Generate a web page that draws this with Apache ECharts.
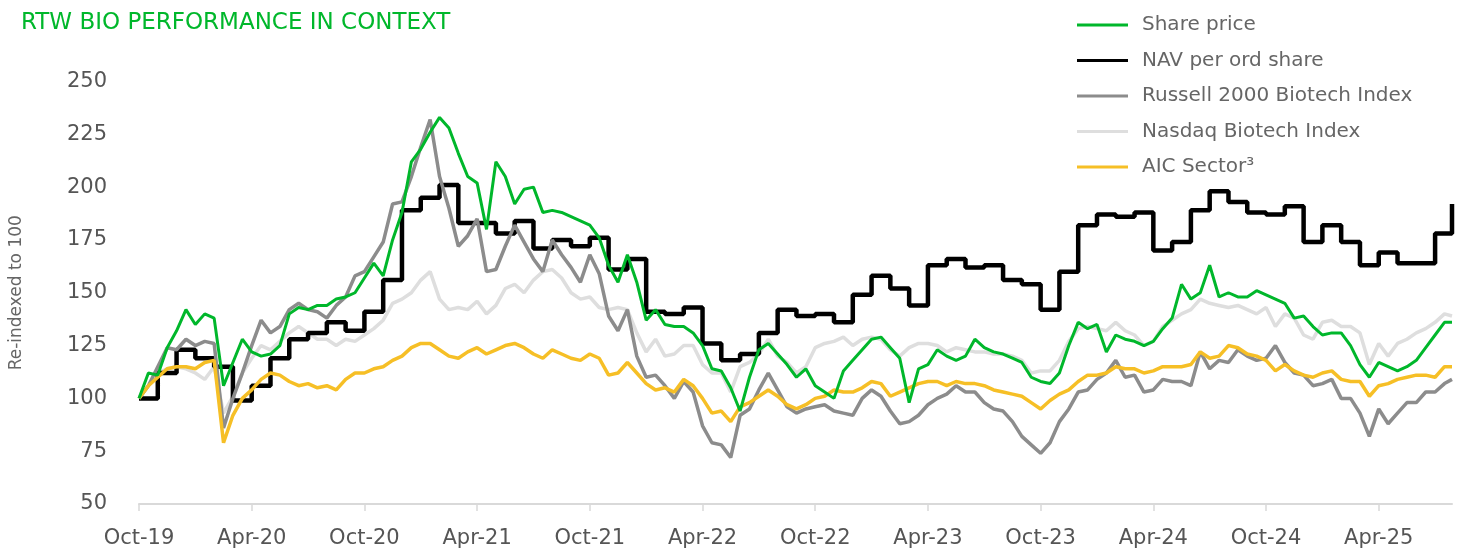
<!DOCTYPE html>
<html>
<head>
<meta charset="utf-8">
<script src="https://cdn.jsdelivr.net/npm/echarts@6/dist/echarts.min.js"></script>
<style>
html,body{margin:0;padding:0;background:#fff;}
#c{width:1458px;height:549px;}
</style>
</head>
<body>
<div id="c"></div>
<script>
// x positions: months elapsed since 1 Oct 2019 (half-month sampling, last point late Jul 2025)
const monthsEnd = 69.9;
const tickMonths = [0, 6, 12, 18, 24, 30, 36, 42, 48, 54, 60, 66];
const tickLabels = ['Oct-19','Apr-20','Oct-20','Apr-21','Oct-21','Apr-22','Oct-22','Apr-23','Oct-23','Apr-24','Oct-24','Apr-25'];

const sharePrice = [
  100,112,111,124,132,142,135,140,138,106,117,128,122,120,121,125,140,143,142,144,144,147,148,150,157,
  164,158,175,188,212,218,226,233,228,216,205,202,180,212,205,192,199,200,188,189,188,186,184,182,
  176,163,155,168,155,137,142,135,134,134,131,125,114,113,105,94,110,123,126,121,116,110,114,106,
  103,100,113,118,123,128,129,124,119,98,114,116,123,120,118,120,128,124,122,121,119,117,110,108,
  107,112,125,136,133,135,122,130,128,127,125,127,133,138,154,147,150,163,148,150,148,148,151,149,
  147,145,138,139,134,130,131,131,125,116,110,117,115,113,115,118,124,130,136,136
];
const russell = [
  100,106,115,124,123,128,125,127,126,86,100,112,125,137,131,134,142,145,142,141,138,144,148,158,160,
  167,174,192,193,205,219,232,205,190,172,177,185,160,161,172,182,174,166,160,175,168,162,155,168,
  159,139,132,142,120,110,111,106,100,108,103,87,79,78,72,92,95,104,112,104,96,93,95,96,
  97,94,93,92,100,104,101,94,88,89,92,97,100,102,106,103,103,98,95,94,89,82,78,74,
  79,89,95,103,104,109,112,118,110,111,103,104,109,108,108,106,122,114,118,117,123,120,118,119,
  125,117,112,111,106,107,109,100,100,93,82,95,88,93,98,98,103,103,107,109
];
const nasdaq = [
  100,106,112,114,115,114,112,109,115,93,101,112,119,125,123,127,131,134,131,128,128,125,128,127,130,
  133,137,145,147,150,156,160,147,142,143,142,146,140,144,152,154,150,156,160,161,157,150,147,148,
  143,142,143,142,131,122,128,120,121,125,125,116,112,112,103,115,117,121,128,120,117,112,115,124,
  126,127,129,125,128,129,128,123,120,124,126,126,125,122,124,123,122,122,121,121,120,118,112,113,
  113,118,127,133,134,133,132,136,132,130,125,127,134,137,140,142,147,145,144,143,144,142,140,143,
  134,140,138,130,128,136,137,134,134,131,116,126,120,126,128,131,133,136,140,139
];
const aicSector = [
  100,106,110,114,115,115,114,117,118,79,92,100,104,109,112,111,108,106,107,105,106,104,109,112,112,
  114,115,118,120,124,126,126,123,120,119,122,124,121,123,125,126,124,121,119,123,121,119,118,121,
  119,111,112,117,112,107,104,105,103,109,106,100,93,94,89,96,98,101,104,101,97,95,97,100,
  101,104,103,103,105,108,107,101,103,105,107,108,108,106,108,107,107,106,104,103,102,101,98,95,
  99,102,104,108,111,111,112,115,114,114,112,113,115,115,115,116,122,119,120,125,124,121,120,118,
  113,116,113,111,110,112,113,109,108,108,101,106,107,109,110,111,111,110,115,115
];
// NAV per ord share: one value per month (month 0 = Oct-19), plus final reading
const navMonthly = [
  100,112,123,119,115,99,106,119,128,131,136,132,
  141,156,189,195,201,183,183,178,184,171,175,172,
  176,161,166,141,140,143,126,118,121,131,142,139,
  140,136,149,158,152,144,163,166,162,163,156,154,
  142,160,182,187,186,188,170,174,189,198,193,188,
  187,191,174,182,174,163,169,164,164,178
];
const navFinal = 192;

const FONT = 'DejaVu Sans';
const GREEN = '#00b72b';

// sample times (half-month steps) for the index series
const sampleMonths = [];
for (let i = 0; i < sharePrice.length - 1; i++) sampleMonths.push(i / 2);
sampleMonths.push(monthsEnd);
const pair = arr => arr.map((v, i) => [sampleMonths[i], v]);
const navData = navMonthly.map((v, k) => [k, v]).concat([[monthsEnd, navFinal]]);

const chart = echarts.init(document.getElementById('c'), null, {renderer: 'canvas'});
chart.setOption({
  animation: false,
  backgroundColor: '#ffffff',
  textStyle: {fontFamily: FONT},
  title: {
    text: 'RTW BIO PERFORMANCE IN CONTEXT',
    left: 16, top: 7,
    textStyle: {color: GREEN, fontSize: 23, fontWeight: 'normal', fontFamily: FONT}
  },
  legend: {
    orient: 'vertical',
    left: 1072, top: 9,
    icon: 'rect',
    itemWidth: 51, itemHeight: 3,
    itemGap: 13.5,
    data: ['Share price', 'NAV per ord share', 'Russell 2000 Biotech Index', 'Nasdaq Biotech Index', 'AIC Sector³'],
    textStyle: {color: '#666666', fontSize: 20, fontFamily: FONT, lineHeight: 22, padding: [0, 0, 0, 9]}
  },
  grid: {left: 132, right: 6, top: 81.5, bottom: 43.5, containLabel: false},
  xAxis: {
    type: 'value', min: 0, max: monthsEnd,
    axisLine: {show: true, lineStyle: {color: '#d9d9d9', width: 2}},
    axisTick: {show: true, length: 7, customValues: tickMonths, lineStyle: {color: '#d9d9d9', width: 1.5}},
    axisLabel: {
      customValues: tickMonths,
      formatter: v => tickLabels[Math.round(v / 6)] || '',
      color: '#555555', fontSize: 21, margin: 24, fontFamily: FONT
    },
    splitLine: {show: false}
  },
  yAxis: {
    type: 'value', min: 50, max: 250, interval: 25,
    name: 'Re-indexed to 100', nameLocation: 'middle', nameGap: 114, nameRotate: 90,
    nameTextStyle: {color: '#666666', fontSize: 17, fontFamily: FONT},
    axisLine: {show: false}, axisTick: {show: false}, splitLine: {show: false},
    axisLabel: {color: '#555555', fontSize: 21, margin: 32, fontFamily: FONT}
  },
  series: [
    {name: 'Nasdaq Biotech Index', type: 'line', data: pair(nasdaq), showSymbol: false, symbol: 'none',
     lineStyle: {color: '#dedede', width: 3.5}, itemStyle: {color: '#dedede'}, z: 2},
    {name: 'NAV per ord share', type: 'line', data: navData, step: 'end', showSymbol: false, symbol: 'none',
     lineStyle: {color: '#000000', width: 4.5}, itemStyle: {color: '#000000'}, z: 3},
    {name: 'Russell 2000 Biotech Index', type: 'line', data: pair(russell), showSymbol: false, symbol: 'none',
     lineStyle: {color: '#8c8c8c', width: 3.5}, itemStyle: {color: '#8c8c8c'}, z: 4},
    {name: 'AIC Sector³', type: 'line', data: pair(aicSector), showSymbol: false, symbol: 'none',
     lineStyle: {color: '#f6bf26', width: 3.5}, itemStyle: {color: '#f6bf26'}, z: 5},
    {name: 'Share price', type: 'line', data: pair(sharePrice), showSymbol: false, symbol: 'none',
     lineStyle: {color: GREEN, width: 3}, itemStyle: {color: GREEN}, z: 6}
  ]
});
</script>
</body>
</html>
